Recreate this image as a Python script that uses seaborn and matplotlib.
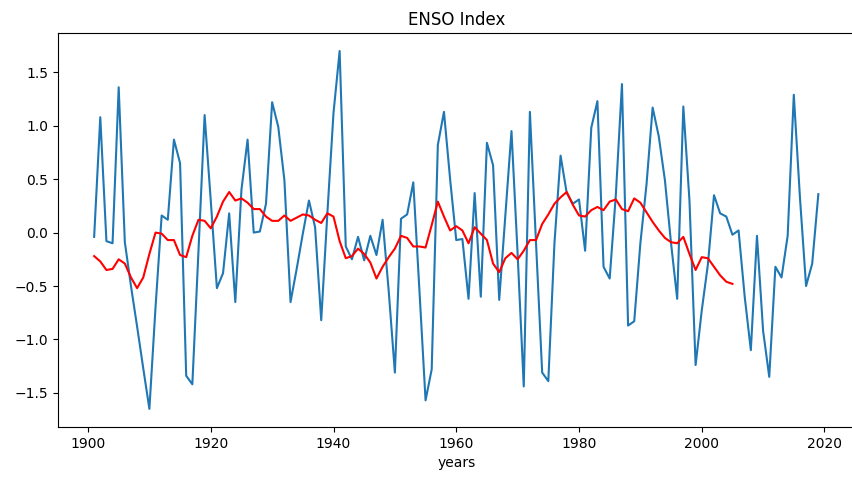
import pandas as pd
import matplotlib.pyplot as plt
import seaborn as sns
import numpy as np

# 年ごとのENSO指数 (1901-2019)
years = list(range(1901, 2020))
enso = [
    -0.04, 1.08, -0.08, -0.10, 1.36, -0.09, -0.50, -0.88, -1.27, -1.65,   # 1901-1910
    -0.70, 0.16, 0.12, 0.87, 0.65, -1.34, -1.42, -0.17, 1.10, 0.30,       # 1911-1920
    -0.52, -0.38, 0.18, -0.65, 0.40, 0.87, 0.00, 0.01, 0.27, 1.22,        # 1921-1930
    0.99, 0.49, -0.65, -0.34, -0.01, 0.30, 0.05, -0.82, 0.18, 1.12,       # 1931-1940
    1.70, -0.13, -0.25, -0.04, -0.26, -0.03, -0.21, 0.12, -0.55, -1.31,   # 1941-1950
    0.13, 0.17, 0.47, -0.54, -1.57, -1.28, 0.82, 1.13, 0.50, -0.07,       # 1951-1960
    -0.06, -0.62, 0.37, -0.60, 0.84, 0.63, -0.63, 0.16, 0.95, -0.20,      # 1961-1970
    -1.44, 1.13, -0.10, -1.31, -1.39, -0.10, 0.72, 0.37, 0.27, 0.31,      # 1971-1980
    -0.17, 0.98, 1.23, -0.32, -0.43, 0.35, 1.39, -0.87, -0.83, -0.10,     # 1981-1990
    0.45, 1.17, 0.90, 0.49, -0.10, -0.62, 1.18, 0.30, -1.24, -0.73,       # 1991-2000
    -0.30, 0.35, 0.18, 0.15, -0.02, 0.02, -0.60, -1.10, -0.03, -0.92,     # 2001-2010
    -1.35, -0.32, -0.42, -0.03, 1.29, 0.33, -0.50, -0.29, 0.36,           # 2011-2019
]

# 平滑化した系列 (1901-2005)
smooth_years = list(range(1901, 2006))
enso_smooth = [
    -0.22, -0.27, -0.35, -0.34, -0.25, -0.29, -0.42, -0.52, -0.42, -0.20,
    0.00, -0.01, -0.07, -0.07, -0.21, -0.23, -0.03, 0.12, 0.11, 0.04,
    0.15, 0.29, 0.38, 0.30, 0.32, 0.28, 0.22, 0.22, 0.15, 0.11,
    0.11, 0.16, 0.11, 0.14, 0.17, 0.16, 0.12, 0.09, 0.18, 0.15,
    -0.08, -0.24, -0.22, -0.15, -0.20, -0.28, -0.43, -0.32, -0.23, -0.15,
    -0.03, -0.05, -0.13, -0.13, -0.14, 0.07, 0.29, 0.15, 0.02, 0.06,
    0.02, -0.10, 0.05, -0.01, -0.07, -0.29, -0.37, -0.24, -0.19, -0.25,
    -0.17, -0.07, -0.07, 0.08, 0.17, 0.27, 0.33, 0.38, 0.26, 0.16,
    0.15, 0.21, 0.24, 0.21, 0.29, 0.31, 0.22, 0.20, 0.32, 0.28,
    0.19, 0.10, 0.02, -0.05, -0.09, -0.10, -0.04, -0.20, -0.35, -0.23,
    -0.24, -0.32, -0.40, -0.46, -0.48,
]

df = pd.DataFrame({'years': years, 'enso': enso})
df_smooth = pd.DataFrame({'years': smooth_years, 'enso': enso_smooth})

fig = plt.figure(figsize=(8.52, 4.79), dpi=100)
ax = fig.add_axes([0.068, 0.109, 0.935, 0.822])

sns.lineplot(data=df, x='years', y='enso', color='#1f77b4', linewidth=1.5, ax=ax)
sns.lineplot(data=df_smooth, x='years', y='enso', color='red', linewidth=1.5, ax=ax)

ax.set_title('ENSO Index', fontsize=12)
ax.set_xlabel('years', fontsize=10)
ax.set_ylabel('')
ax.tick_params(labelsize=10)

plt.savefig('out.png', dpi=100)
plt.close()
